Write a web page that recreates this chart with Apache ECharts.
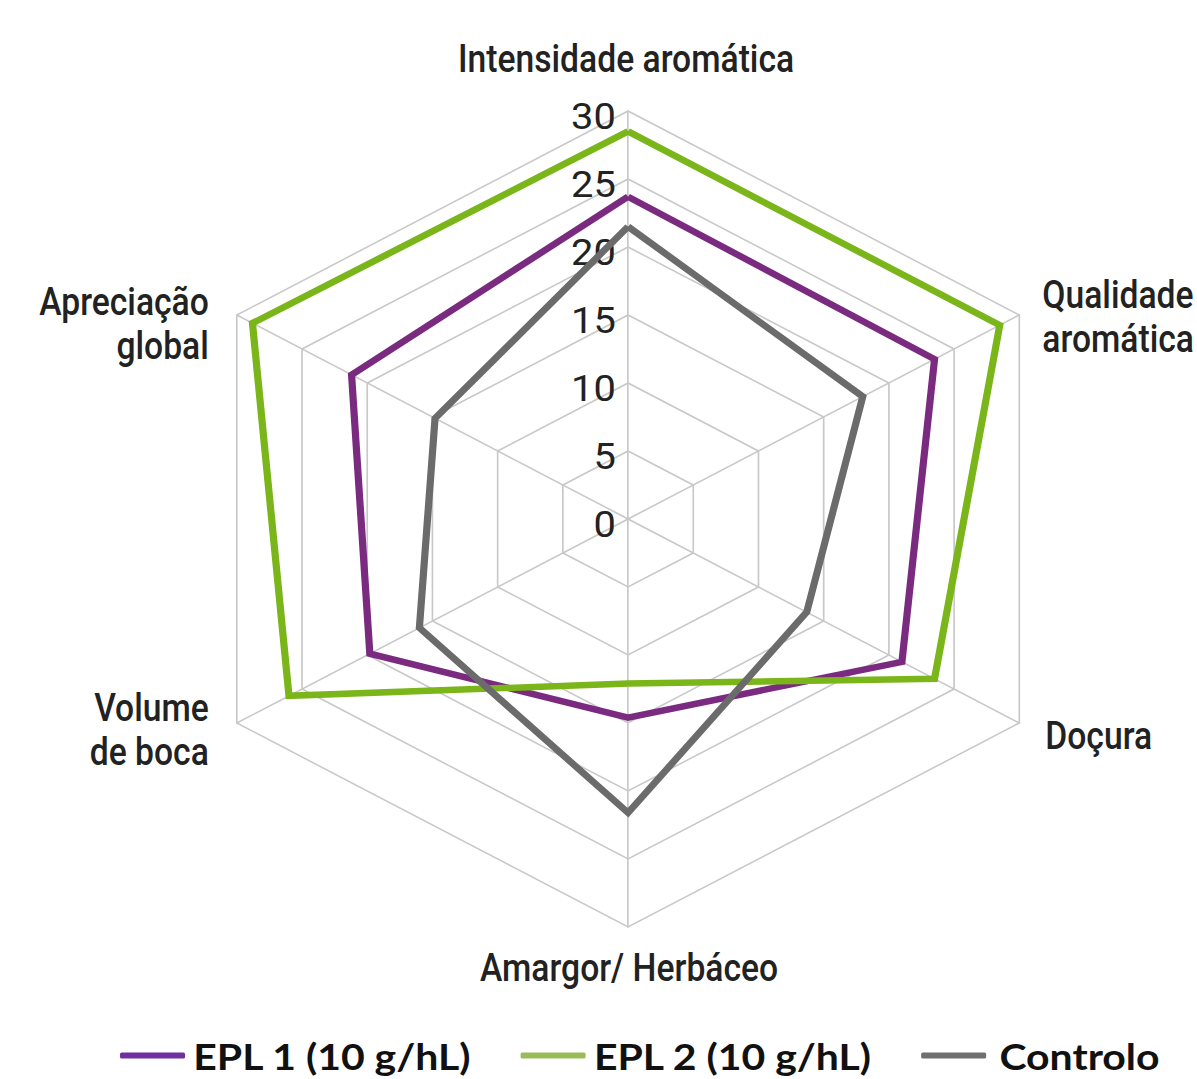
<!DOCTYPE html>
<html>
<head>
<meta charset="utf-8">
<title>Análise sensorial</title>
<script src="https://cdn.jsdelivr.net/npm/echarts@6/dist/echarts.min.js"></script>
<style>
  html, body { margin: 0; padding: 0; background: #ffffff; }
  #wrap { width: 1197px; height: 1079px; overflow: hidden; position: relative; }
  /* the radar is drawn on a slightly narrower canvas and widened horizontally */
  #chart { width: 1081px; height: 1079px; transform: scaleX(1.1073); transform-origin: 0 0; }
</style>
</head>
<body>
<div id="wrap"><div id="chart"></div></div>
<script>
// Attributes, listed in the radar's drawing order (top first, then counter-clockwise)
const attributes = [
  'Intensidade aromática',
  'Apreciação\nglobal',
  'Volume\nde boca',
  'Amargor/ Herbáceo',
  'Doçura',
  'Qualidade\naromática'
];
const scaleMin = 0;
const scaleMax = 30;
const scaleSplits = 6;

const seriesNames = ['EPL 1 (10 g/hL)', 'EPL 2 (10 g/hL)', 'Controlo'];
const epl1 = [23.7, 21.2, 19.8, 14.6, 21.0, 23.5];
const epl2 = [28.5, 28.8, 26.0, 12.1, 23.5, 28.5];
const controlo = [21.5, 14.8, 16.0, 21.6, 13.7, 18.0];

const lineColors = ['#7a2b80', '#7ab51a', '#6b6b6b'];
const legendColors = ['#7030a0', '#9bbb59', '#6f6f6f'];

// geometry of the radar (in canvas pixels, before the horizontal widening)
const stretch = 1.1073;
const cx = 567.2;
const cy = 519;
const R = 408;

// where each attribute name sits relative to its outer vertex (screen pixels)
const nameOffsets = [
  { dx: -2, dy: -52, align: 'center' },
  { dx: -28, dy: 9, align: 'right' },
  { dx: -28, dy: 7, align: 'right' },
  { dx: 1, dy: 41, align: 'center' },
  { dx: 26, dy: 13, align: 'left' },
  { dx: 23, dy: 2, align: 'left' }
];

const indicators = attributes.map(function (name, i) {
  const ind = { name: name, min: scaleMin, max: scaleMax };
  if (i === 0) {
    ind.axisLabel = {
      show: true,
      margin: 11,
      color: '#222222',
      fontFamily: 'Roboto, sans-serif',
      fontSize: 36,
      verticalAlign: 'top',
      lineHeight: 12
    };
  }
  return ind;
});

// condensed attribute names around the outer ring
const nameTexts = attributes.map(function (name, i) {
  const ang = (90 + i * 360 / attributes.length) * Math.PI / 180;
  const vx = cx + R * Math.cos(ang);
  const vy = cy - R * Math.sin(ang);
  const o = nameOffsets[i];
  return {
    type: 'text',
    silent: true,
    z: 10,
    x: vx + o.dx / stretch,
    y: vy + o.dy,
    scaleX: 0.8,
    style: {
      text: name,
      fill: '#222222',
      fontFamily: 'Roboto, sans-serif',
      fontWeight: 500,
      fontSize: 38,
      lineHeight: 44,
      align: o.align,
      verticalAlign: 'middle'
    }
  };
});

const values = [epl1, epl2, controlo];

const chart = echarts.init(document.getElementById('chart'), null, { renderer: 'svg' });

chart.setOption({
  animation: false,
  backgroundColor: '#ffffff',
  graphic: nameTexts,
  legend: {
    left: 108.4,
    top: 1037,
    padding: 0,
    icon: 'roundRect',
    itemWidth: 58.7,
    itemHeight: 6,
    itemGap: 44,
    selectedMode: false,
    textStyle: {
      fontFamily: "Lato, 'Open Sans', sans-serif",
      fontWeight: 'bold',
      fontSize: 37,
      lineHeight: 36,
      color: '#111111',
      padding: [0, 0, 0, 2.5]
    },
    data: seriesNames.map(function (n, i) {
      const item = { name: n, itemStyle: { color: legendColors[i] } };
      if (i === 2) item.textStyle = { padding: [0, 0, 0, 7] };
      return item;
    })
  },
  radar: {
    center: [cx, cy],
    radius: R,
    startAngle: 90,
    shape: 'polygon',
    splitNumber: scaleSplits,
    axisName: { show: false },
    axisLabel: { show: false },
    axisTick: { show: false },
    axisLine: { lineStyle: { color: '#c8c8c8', width: 1.5 } },
    splitLine: { lineStyle: { color: '#c8c8c8', width: 1.5 } },
    splitArea: { show: false },
    indicator: indicators
  },
  series: seriesNames.map(function (n, i) {
    return {
      type: 'radar',
      name: n,
      symbol: 'none',
      z: 2 + i,
      itemStyle: { color: lineColors[i] },
      lineStyle: { color: lineColors[i], width: 6.5, join: 'miter' },
      emphasis: { disabled: true },
      data: [{ name: n, value: values[i] }]
    };
  })
});
</script>
</body>
</html>
